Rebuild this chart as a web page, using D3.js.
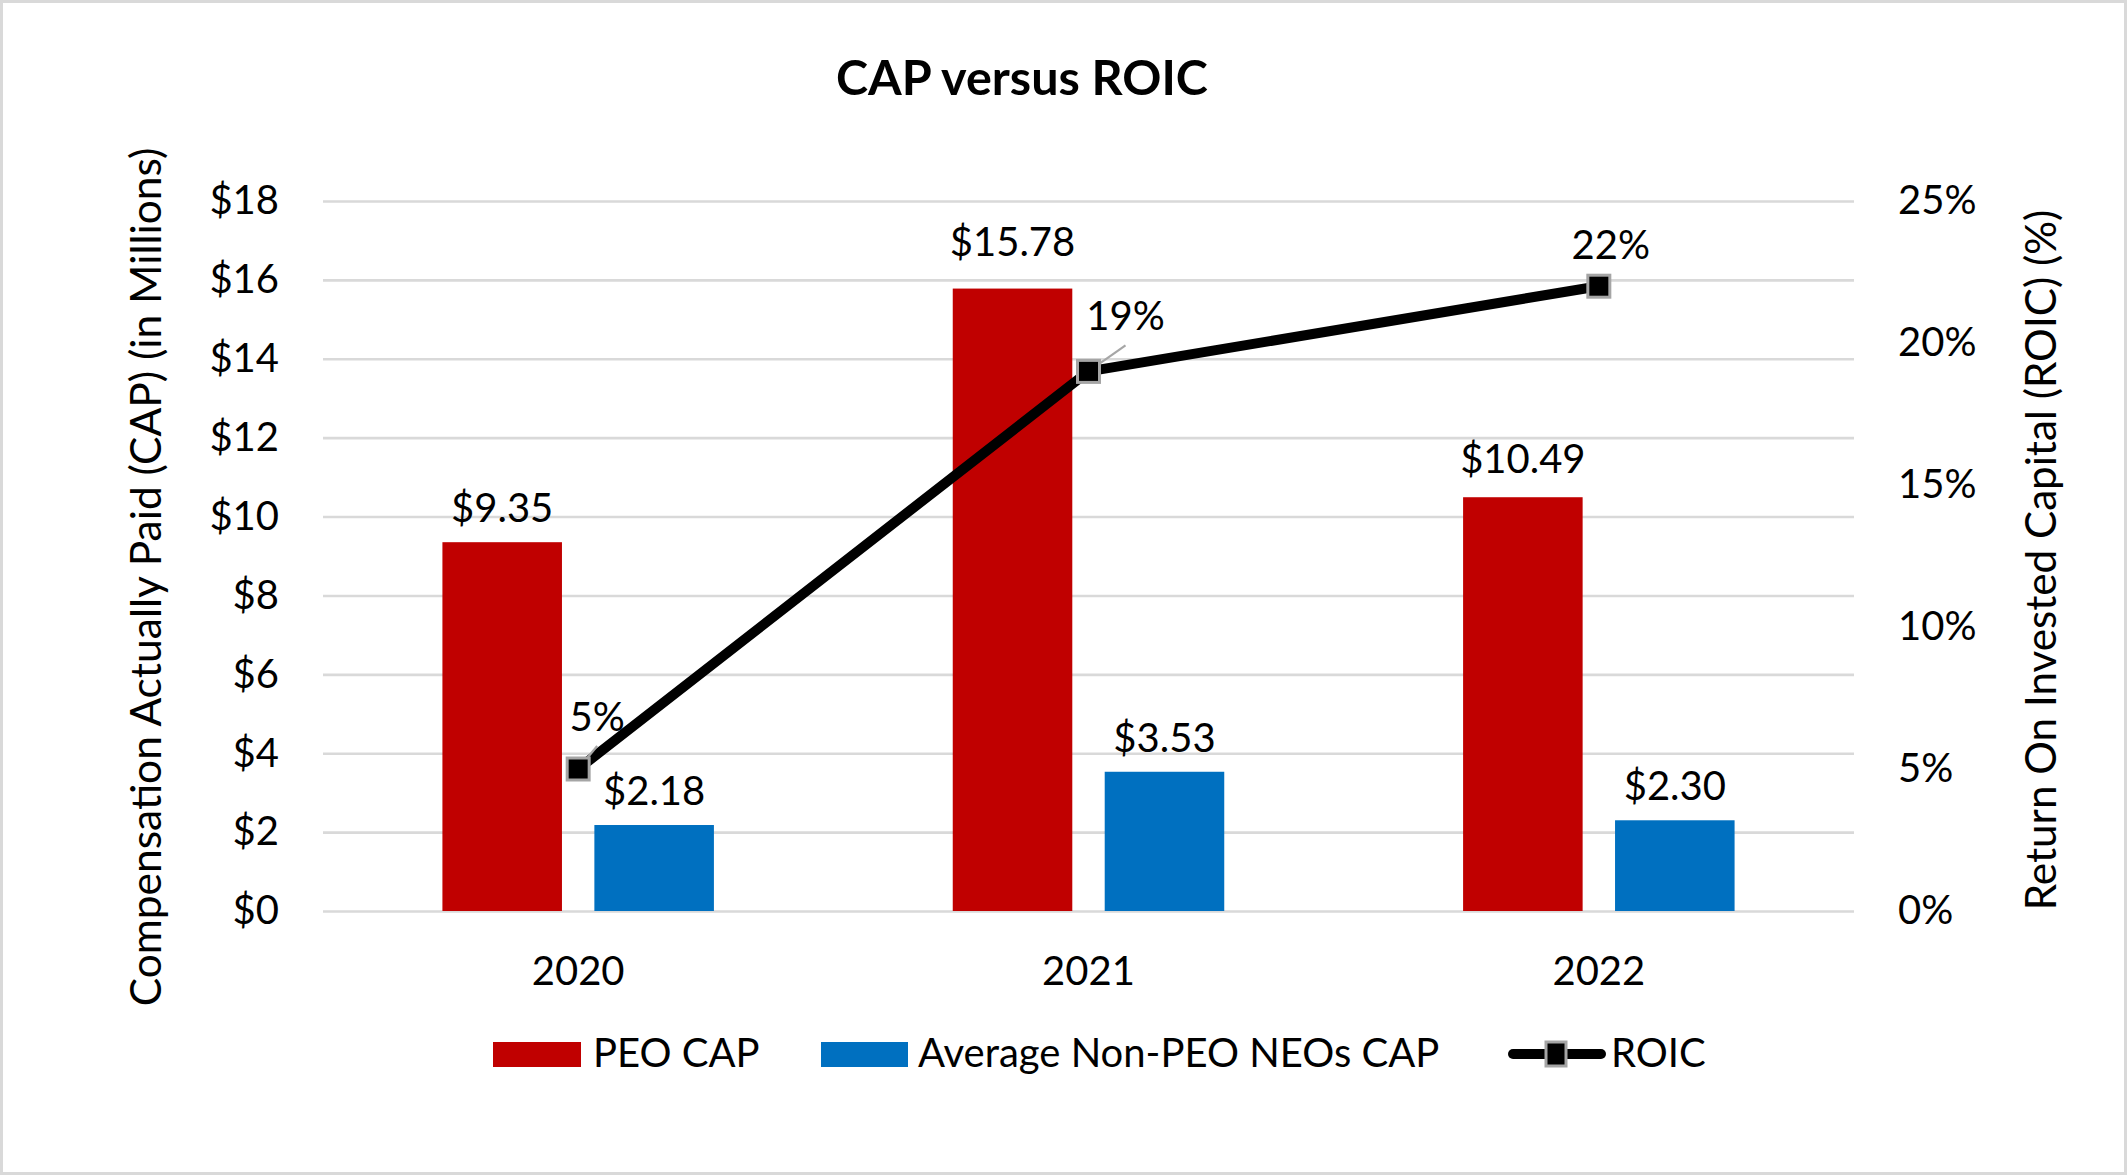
<!DOCTYPE html>
<html>
<head>
<meta charset="utf-8">
<script src="https://cdn.jsdelivr.net/npm/d3@7"></script>
<style>
    html, body { margin: 0; padding: 0; background: #fff; }
    svg { display: block; font-family: Lato, "Open Sans", sans-serif; }
</style>
</head>
<body>
<svg id="chart" width="2127" height="1175"></svg>
<script>
// chart data
const years = ['2020', '2021', '2022'];
const peoCap = [9.35, 15.78, 10.49];
const neoCap = [2.18, 3.53, 2.30];
const roic = [5, 19, 22];
const capTicks = [0, 2, 4, 6, 8, 10, 12, 14, 16, 18];
const roicTicks = [0, 5, 10, 15, 20, 25];
const seriesNames = ['PEO CAP', 'Average Non-PEO NEOs CAP', 'ROIC'];

const RED = '#c00000';
const BLUE = '#0070c0';
const GRID = '#d9d9d9';
const MARKER_EDGE = '#a5a5a5';

// plot box
const plotLeft = 323, plotRight = 1854, plotTop = 201, plotBottom = 911;

let svg = d3.select('#chart');

svg.append('rect')
    .attr('x', 1.5).attr('y', 1.5)
    .attr('width', 2124).attr('height', 1172)
    .attr('fill', '#fff')
    .attr('stroke', GRID)
    .attr('stroke-width', 3);

let x0 = d3.scaleBand()
    .domain(years)
    .range([plotLeft, plotRight])
    .paddingInner(0.468)
    .paddingOuter(0.234);

let x1 = d3.scaleBand()
    .domain(['peo', 'neo'])
    .range([0, x0.bandwidth()])
    .paddingInner(0.2133);

let yCap = d3.scaleLinear().domain([0, 18]).range([plotBottom, plotTop]);
let yRoic = d3.scaleLinear().domain([0, 25]).range([plotBottom, plotTop]);

function center(year) {
    return x0(year) + x0.bandwidth() / 2;
}

// left axis with gridlines
let gLeft = svg.append('g')
    .attr('transform', `translate(${plotLeft},0)`)
    .call(d3.axisLeft(yCap)
        .tickValues(capTicks)
        .tickSize(-(plotRight - plotLeft))
        .tickPadding(44)
        .tickFormat(d => '$' + d));
gLeft.select('.domain').remove();
gLeft.selectAll('line').attr('stroke', GRID).attr('stroke-width', 2.6);
gLeft.selectAll('text')
    .attr('font-size', 40)
    .attr('font-family', 'Lato, sans-serif')
    .attr('fill', '#000');

// right axis labels
let gRight = svg.append('g')
    .attr('transform', `translate(${plotRight},0)`)
    .call(d3.axisRight(yRoic)
        .tickValues(roicTicks)
        .tickSize(0)
        .tickPadding(44)
        .tickFormat(d => d + '%'));
gRight.select('.domain').remove();
gRight.selectAll('text')
    .attr('font-size', 40)
    .attr('font-family', 'Lato, sans-serif')
    .attr('fill', '#000');

// category axis
let gBottom = svg.append('g')
    .attr('transform', `translate(0,${plotBottom})`)
    .call(d3.axisBottom(x0).tickSize(0).tickPadding(0));
gBottom.select('.domain').remove();
gBottom.selectAll('text')
    .attr('dy', null)
    .attr('y', 74)
    .attr('font-size', 40)
    .attr('font-family', 'Lato, sans-serif')
    .attr('fill', '#000');

// bars
let groups = svg.append('g').selectAll('g')
    .data(years)
    .join('g')
    .attr('transform', d => `translate(${x0(d)},0)`);

// the 2021 PEO label sits a little higher in the original
const peoLabelLift = [0, 13, 4];

let barData = (d, i) => [
    { key: 'peo', value: peoCap[i], color: RED, lift: peoLabelLift[i] },
    { key: 'neo', value: neoCap[i], color: BLUE, lift: 0 }
];

groups.selectAll('rect')
    .data(barData)
    .join('rect')
    .attr('x', d => x1(d.key))
    .attr('width', x1.bandwidth())
    .attr('y', d => yCap(d.value))
    .attr('height', d => yCap(0) - yCap(d.value))
    .attr('fill', d => d.color);

groups.selectAll('text')
    .data(barData)
    .join('text')
    .attr('x', d => x1(d.key) + x1.bandwidth() / 2)
    .attr('y', d => yCap(d.value) - 20 - d.lift)
    .attr('text-anchor', 'middle')
    .attr('font-size', 40)
    .text(d => '$' + d.value.toFixed(2));

// ROIC line
let pts = years.map((y, i) => [center(y), yRoic(roic[i])]);

svg.append('path')
    .attr('d', d3.line()(pts))
    .attr('fill', 'none')
    .attr('stroke', '#000')
    .attr('stroke-width', 10)
    .attr('stroke-linejoin', 'round')
    .attr('stroke-linecap', 'round');

// data label nudges (dx, dy from marker, leader line or not)
const roicLabelPos = [
    { dx: 19, dy: -38, leader: true },
    { dx: 37, dy: -41, leader: true },
    { dx: 12, dy: -27, leader: false }
];

roicLabelPos.forEach((p, i) => {
    if (!p.leader) return;
    let [px, py] = pts[i];
    svg.append('line')
        .attr('x1', px).attr('y1', py)
        .attr('x2', px + p.dx).attr('y2', py + p.dy + 15)
        .attr('stroke', '#a6a6a6')
        .attr('stroke-width', 2.2);
});

svg.append('g').selectAll('rect')
    .data(pts)
    .join('rect')
    .attr('x', d => d[0] - 11)
    .attr('y', d => d[1] - 11)
    .attr('width', 22)
    .attr('height', 22)
    .attr('fill', '#000')
    .attr('stroke', MARKER_EDGE)
    .attr('stroke-width', 3);

svg.append('g').selectAll('text')
    .data(pts)
    .join('text')
    .attr('x', (d, i) => d[0] + roicLabelPos[i].dx)
    .attr('y', (d, i) => d[1] + roicLabelPos[i].dy)
    .attr('text-anchor', 'middle')
    .attr('font-size', 40)
    .text((d, i) => roic[i] + '%');

// titles
svg.append('text')
    .attr('x', 1022)
    .attr('y', 95)
    .attr('text-anchor', 'middle')
    .attr('font-size', 48.5)
    .attr('font-weight', 'bold')
    .text('CAP versus ROIC');

svg.append('text')
    .attr('transform', 'translate(161,577) rotate(-90)')
    .attr('text-anchor', 'middle')
    .attr('font-size', 42.5)
    .text('Compensation Actually Paid (CAP) (in Millions)');

svg.append('text')
    .attr('transform', 'translate(2056,560) rotate(-90)')
    .attr('text-anchor', 'middle')
    .attr('font-size', 42.2)
    .text('Return On Invested Capital (ROIC) (%)');

// legend
let legend = svg.append('g').attr('font-size', 40);

legend.append('rect')
    .attr('x', 493).attr('y', 1042)
    .attr('width', 88).attr('height', 25)
    .attr('fill', RED);
legend.append('text').attr('x', 593).attr('y', 1067).text(seriesNames[0]);

legend.append('rect')
    .attr('x', 821).attr('y', 1042)
    .attr('width', 87).attr('height', 25)
    .attr('fill', BLUE);
legend.append('text').attr('x', 918).attr('y', 1067).text(seriesNames[1]);

legend.append('line')
    .attr('x1', 1513).attr('x2', 1601)
    .attr('y1', 1054).attr('y2', 1054)
    .attr('stroke', '#000')
    .attr('stroke-width', 10)
    .attr('stroke-linecap', 'round');
legend.append('rect')
    .attr('x', 1546).attr('y', 1042)
    .attr('width', 20).attr('height', 24)
    .attr('fill', '#000')
    .attr('stroke', MARKER_EDGE)
    .attr('stroke-width', 3);
legend.append('text').attr('x', 1611).attr('y', 1067).text(seriesNames[2]);
</script>
</body>
</html>
